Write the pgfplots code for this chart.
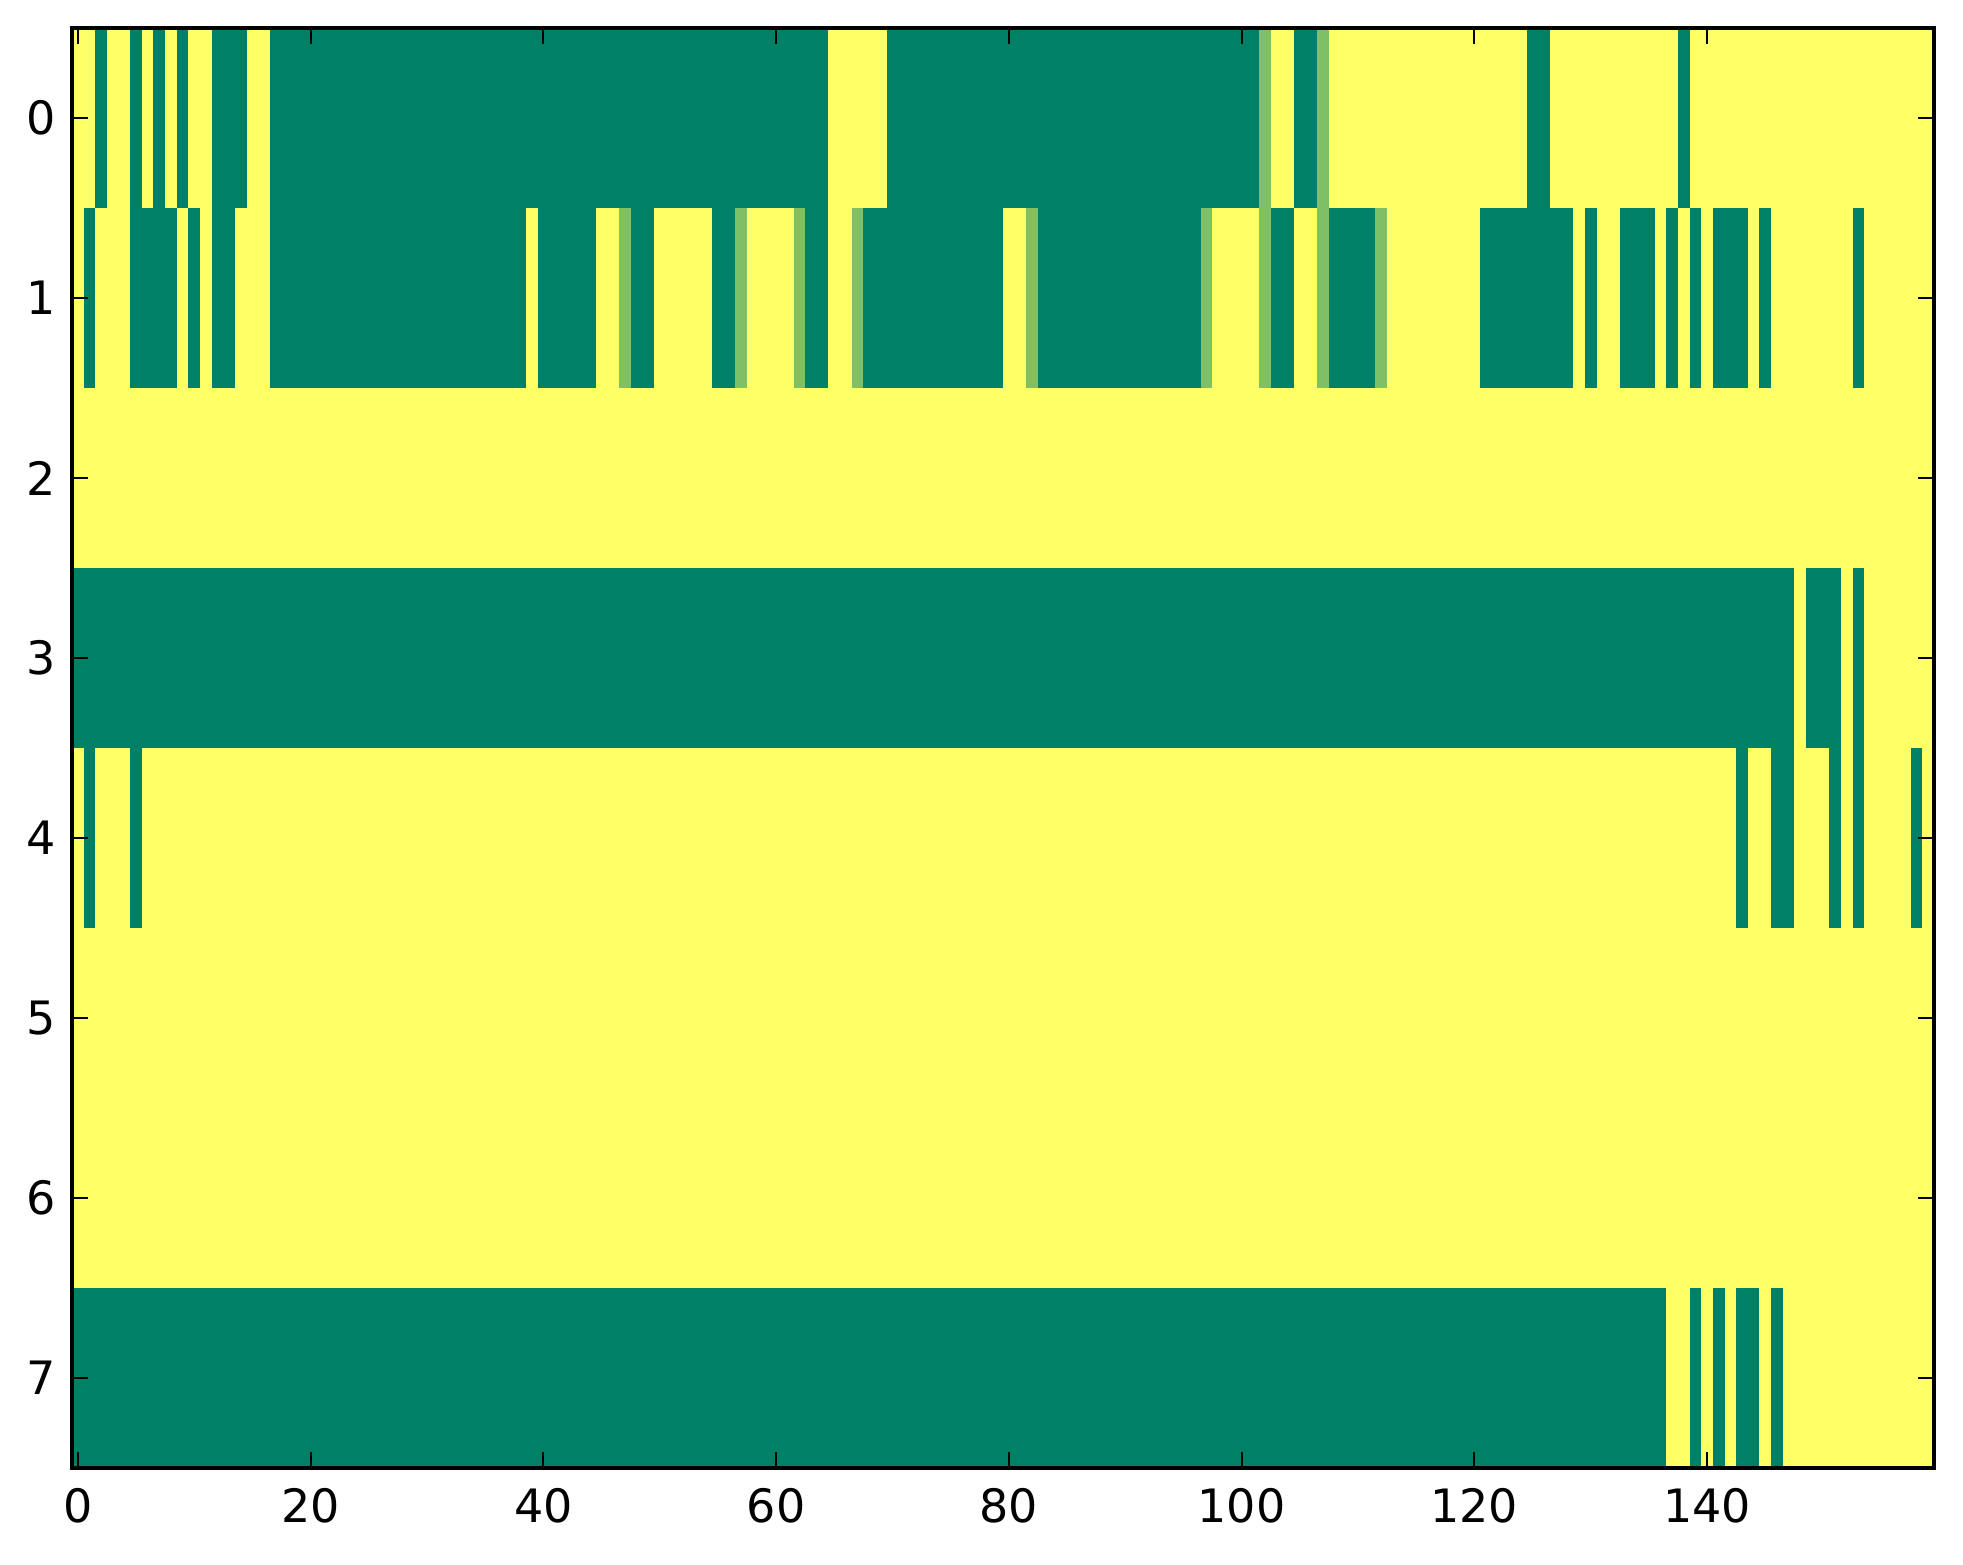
\documentclass[border=0pt]{standalone}
\usepackage{fontspec}
\setmainfont{DejaVu Sans}
\usepackage{pgfplots}
\pgfplotsset{compat=1.18}
\definecolor{sgreen}{RGB}{0,128,102}
\definecolor{syellow}{RGB}{255,255,102}
\definecolor{slight}{RGB}{127,191,102}
% run of equal cells: colour, x from, x to, y from, y to
\newcommand{\run}[5]{\addplot[fill=#1,draw=none] coordinates {(#2,#4) (#3,#4) (#3,#5) (#2,#5)} -- cycle;}
\begin{document}
\begin{tikzpicture}
\begin{axis}[
  scale only axis, width=465.5pt, height=360pt,
  xmin=-0.5, xmax=159.5, ymin=-0.5, ymax=7.5, y dir=reverse,
  xtick={0,20,...,140}, ytick={0,1,...,7},
  tick align=inside, major tick length=4pt,
  axis line style={line width=0.8pt},
  tick style={line width=0.5pt, black},
  axis on top,
  tick label style={font=\fontsize{11.5}{13}\selectfont},
  /pgf/number format/assume math mode=true,
  xticklabel style={yshift=-1.5pt},
  yticklabel style={xshift=-0.5pt},
]
% background: value 1 (yellow)
\run{syellow}{-0.5}{159.5}{-0.5}{7.5}
% row 0
\run{sgreen}{1.5}{2.5}{-0.5}{0.5}
\run{sgreen}{4.5}{5.5}{-0.5}{0.5}
\run{sgreen}{6.5}{7.5}{-0.5}{0.5}
\run{sgreen}{8.5}{9.5}{-0.5}{0.5}
\run{sgreen}{11.5}{14.5}{-0.5}{0.5}
\run{sgreen}{16.5}{64.5}{-0.5}{0.5}
\run{sgreen}{69.5}{101.5}{-0.5}{0.5}
\run{slight}{101.5}{102.5}{-0.5}{0.5}
\run{sgreen}{104.5}{106.5}{-0.5}{0.5}
\run{slight}{106.5}{107.5}{-0.5}{0.5}
\run{sgreen}{124.5}{126.5}{-0.5}{0.5}
\run{sgreen}{137.5}{138.5}{-0.5}{0.5}
% row 1
\run{sgreen}{0.5}{1.5}{0.5}{1.5}
\run{sgreen}{4.5}{8.5}{0.5}{1.5}
\run{sgreen}{9.5}{10.5}{0.5}{1.5}
\run{sgreen}{11.5}{13.5}{0.5}{1.5}
\run{sgreen}{16.5}{38.5}{0.5}{1.5}
\run{sgreen}{39.5}{44.5}{0.5}{1.5}
\run{slight}{46.5}{47.5}{0.5}{1.5}
\run{sgreen}{47.5}{49.5}{0.5}{1.5}
\run{sgreen}{54.5}{56.5}{0.5}{1.5}
\run{slight}{56.5}{57.5}{0.5}{1.5}
\run{slight}{61.5}{62.5}{0.5}{1.5}
\run{sgreen}{62.5}{64.5}{0.5}{1.5}
\run{slight}{66.5}{67.5}{0.5}{1.5}
\run{sgreen}{67.5}{79.5}{0.5}{1.5}
\run{slight}{81.5}{82.5}{0.5}{1.5}
\run{sgreen}{82.5}{96.5}{0.5}{1.5}
\run{slight}{96.5}{97.5}{0.5}{1.5}
\run{slight}{101.5}{102.5}{0.5}{1.5}
\run{sgreen}{102.5}{104.5}{0.5}{1.5}
\run{slight}{106.5}{107.5}{0.5}{1.5}
\run{sgreen}{107.5}{111.5}{0.5}{1.5}
\run{slight}{111.5}{112.5}{0.5}{1.5}
\run{sgreen}{120.5}{128.5}{0.5}{1.5}
\run{sgreen}{129.5}{130.5}{0.5}{1.5}
\run{sgreen}{132.5}{135.5}{0.5}{1.5}
\run{sgreen}{136.5}{137.5}{0.5}{1.5}
\run{sgreen}{138.5}{139.5}{0.5}{1.5}
\run{sgreen}{140.5}{143.5}{0.5}{1.5}
\run{sgreen}{144.5}{145.5}{0.5}{1.5}
\run{sgreen}{152.5}{153.5}{0.5}{1.5}
% row 3
\run{sgreen}{-0.5}{147.5}{2.5}{3.5}
\run{sgreen}{148.5}{151.5}{2.5}{3.5}
\run{sgreen}{152.5}{153.5}{2.5}{3.5}
% row 4
\run{sgreen}{0.5}{1.5}{3.5}{4.5}
\run{sgreen}{4.5}{5.5}{3.5}{4.5}
\run{sgreen}{142.5}{143.5}{3.5}{4.5}
\run{sgreen}{145.5}{147.5}{3.5}{4.5}
\run{sgreen}{150.5}{151.5}{3.5}{4.5}
\run{sgreen}{152.5}{153.5}{3.5}{4.5}
\run{sgreen}{157.5}{158.5}{3.5}{4.5}
% row 7
\run{sgreen}{-0.5}{136.5}{6.5}{7.5}
\run{sgreen}{138.5}{139.5}{6.5}{7.5}
\run{sgreen}{140.5}{141.5}{6.5}{7.5}
\run{sgreen}{142.5}{144.5}{6.5}{7.5}
\run{sgreen}{145.5}{146.5}{6.5}{7.5}
\end{axis}
\useasboundingbox ([shift={(-18pt,-24pt)}]current axis.south west) rectangle ([shift={(7.25pt,7pt)}]current axis.north east);
\end{tikzpicture}
\end{document}
